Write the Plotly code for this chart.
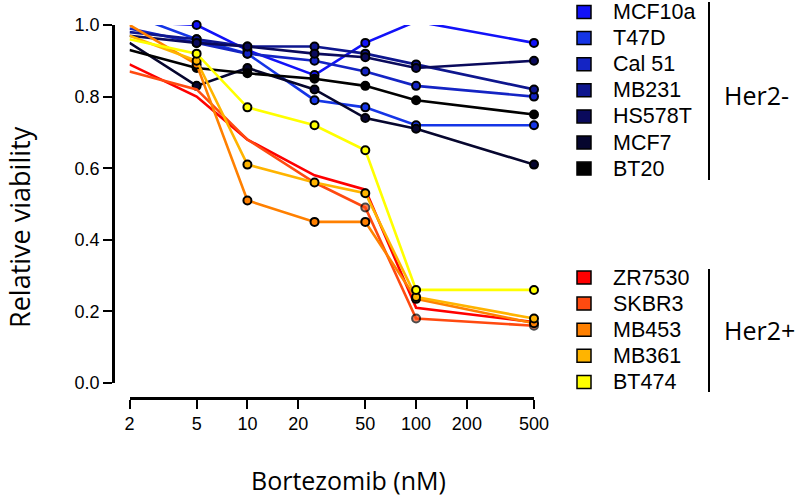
import math
import plotly.graph_objects as go

# ---------------- data ----------------
doses = [2, 5, 10, 25, 50, 100, 500]
x_tick_vals = [2, 5, 10, 20, 50, 100, 200, 500]
y_tick_vals = [0.0, 0.2, 0.4, 0.6, 0.8, 1.0]

her2neg_names = ["MCF10a", "T47D", "Cal 51", "MB231", "HS578T", "MCF7", "BT20"]
her2neg_colors = ["#1212f8", "#1535e6", "#1424c4", "#0e168e", "#0a0a5c", "#06062e", "#000000"]
mcf10a = [1.01, 1.00, 0.93, 0.86, 0.95, 1.01, 0.95]
t47d = [1.03, 0.96, 0.92, 0.79, 0.77, 0.72, 0.72]
cal51 = [0.99, 0.95, 0.92, 0.90, 0.87, 0.83, 0.80]
mb231 = [0.98, 0.96, 0.94, 0.94, 0.92, 0.89, 0.82]
hs578t = [0.97, 0.95, 0.94, 0.92, 0.91, 0.88, 0.90]
mcf7 = [0.95, 0.83, 0.88, 0.82, 0.74, 0.71, 0.61]
bt20 = [0.93, 0.88, 0.865, 0.85, 0.83, 0.79, 0.75]
her2neg_values = [mcf10a, t47d, cal51, mb231, hs578t, mcf7, bt20]

her2pos_names = ["ZR7530", "SKBR3", "MB453", "MB361", "BT474"]
her2pos_colors = ["#ff0000", "#ff4a10", "#ff8000", "#ffb400", "#ffff00"]
zr7530 = [0.89, 0.80, 0.68, 0.58, 0.54, 0.21, 0.17]
skbr3 = [0.87, 0.82, 0.68, 0.56, 0.49, 0.18, 0.16]
mb453 = [1.00, 0.89, 0.51, 0.45, 0.45, 0.235, 0.167]
mb361 = [0.97, 0.90, 0.61, 0.56, 0.53, 0.24, 0.18]
bt474 = [0.96, 0.92, 0.77, 0.72, 0.65, 0.26, 0.26]
her2pos_values = [zr7530, skbr3, mb453, mb361, bt474]

# ---------------- layout geometry (window pixels) ----------------
W, H = 800, 497
L, R, T, B = 113, 534, 25, 398   # plot-area box
pw, ph = R - L, B - T


def px(xw):
    return (xw - L) / pw


def py(yw):
    return (B - yw) / ph


fig = go.Figure()

MS = 8
for name, col, vals in zip(her2neg_names, her2neg_colors, her2neg_values):
    fig.add_trace(go.Scatter(
        x=doses, y=vals, name=name, mode="lines+markers",
        line=dict(color=col, width=2.6),
        marker=dict(size=MS, color=col, line=dict(color="black", width=2)),
        cliponaxis=False, showlegend=False, hoverinfo="skip"))

pos_modes = ["lines", "lines+markers", "lines+markers", "lines+markers", "lines+markers"]
for name, col, vals, md in zip(her2pos_names, her2pos_colors, her2pos_values, pos_modes):
    sizes = MS
    if name == "SKBR3":
        sizes = [MS, 0, 0, 0, MS, MS, MS]
    fig.add_trace(go.Scatter(
        x=doses, y=vals, name=name, mode=md,
        line=dict(color=col, width=2.6),
        marker=dict(size=sizes, color=col, line=dict(color="black", width=2)),
        cliponaxis=False, showlegend=False, hoverinfo="skip"))

shapes = []
annotations = []


def legend_block(names, colors, y0, dy, bracket, label, label_y):
    for i, (n, c) in enumerate(zip(names, colors)):
        yc = y0 + i * dy
        shapes.append(dict(type="rect", xref="paper", yref="paper",
                           x0=px(577), x1=px(591), y0=py(yc - 6.5), y1=py(yc + 6.5),
                           fillcolor=c, line=dict(color="black", width=1.5)))
        annotations.append(dict(xref="paper", yref="paper", x=px(611), y=py(yc),
                                text=n, showarrow=False, xanchor="left", yanchor="middle",
                                font=dict(family="Liberation Sans, Arial", size=21.5, color="black")))
    shapes.append(dict(type="line", xref="paper", yref="paper",
                       x0=px(709), x1=px(709), y0=py(bracket[0]), y1=py(bracket[1]),
                       line=dict(color="black", width=2)))
    annotations.append(dict(xref="paper", yref="paper", x=px(722), y=py(label_y),
                            text=label, showarrow=False, xanchor="left", yanchor="middle",
                            font=dict(family="Open Sans", size=25, color="black")))


legend_block(her2neg_names, her2neg_colors, 12, 26.1, (2, 180), "Her2-", 95)
legend_block(her2pos_names, her2pos_colors, 277.5, 26.1, (269, 392), "Her2+", 330)

# axis titles
annotations.append(dict(xref="paper", yref="paper", x=px(19), y=py(227),
                        text="Relative viability", textangle=-90, showarrow=False,
                        xanchor="center", yanchor="middle",
                        font=dict(family="Open Sans", size=27, color="black")))
annotations.append(dict(xref="paper", yref="paper", x=px(348), y=py(480),
                        text="Bortezomib (nM)", showarrow=False,
                        xanchor="center", yanchor="middle",
                        font=dict(family="Open Sans", size=25, color="black")))

tickfont = dict(family="Liberation Sans, Arial", size=18, color="black")

fig.update_layout(
    width=W, height=H,
    margin=dict(l=L, r=W - R, t=T, b=H - B, pad=0),
    paper_bgcolor="white", plot_bgcolor="white",
    hovermode=False,
    shapes=shapes, annotations=annotations,
    xaxis=dict(type="log", range=[math.log10(2), math.log10(500)],
               domain=[px(129.5), 1], anchor="free", position=0,
               tickvals=x_tick_vals, ticktext=[str(v) for v in x_tick_vals],
               ticks="outside", ticklen=9, tickwidth=2, tickcolor="black",
               showline=True, linewidth=2.5, linecolor="black",
               showgrid=False, zeroline=False, tickfont=tickfont),
    yaxis=dict(range=[0, 1], domain=[py(383), 1], anchor="free", position=0,
               tickvals=y_tick_vals, ticktext=["%.1f" % v for v in y_tick_vals],
               ticks="outside", ticklen=9, tickwidth=2, tickcolor="black",
               showline=True, linewidth=2.5, linecolor="black",
               showgrid=False, zeroline=False, tickfont=tickfont),
)

# remove the browser's default 8px body margin so the figure sits at (0, 0)
fig.write_html("out.html", config={"displayModeBar": False},
               post_script="document.body.style.margin='0px';")
